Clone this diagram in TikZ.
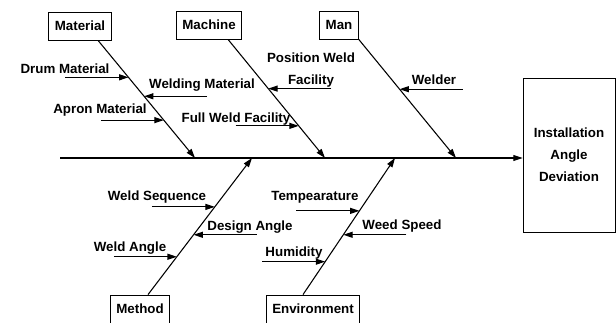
\documentclass[tikz,border=0pt]{standalone}
\usepackage{fontspec}
\setmainfont{Liberation Sans}
\usetikzlibrary{arrows.meta, calc}

\begin{document}
\begin{tikzpicture}[
  x=0.75pt, y=-0.75pt,
  cat/.style={rectangle, draw, line width=0.6pt, minimum height=21pt, inner xsep=4.5pt, font=\bfseries},
  effect/.style={rectangle, draw, line width=0.6pt, minimum width=69pt, minimum height=115.5pt, align=center, font=\bfseries},
  cause/.style={anchor=base, font=\bfseries},
  arrow/.style={-{Triangle[length=7pt, width=4.5pt]}, line width=0.8pt}
]
  \useasboundingbox (0,0) rectangle (616,323);

  % head and spine
  \node[effect] (dev) at (569,155) {Installation\\[4.5pt]Angle\\[4.5pt]Deviation};
  \coordinate (tail) at (60,158);
  \draw[arrow] (tail) -- (tail -| dev.west);

  % categories
  \node[cat] (mat) at (80,26) {Material};
  \node[cat] (mach) at (209,25) {Machine};
  \node[cat] (man) at (339,25) {Man};
  \node[cat] (meth) at (140,309) {Method};
  \node[cat] (env) at (313,309) {Environment};

  % bones
  \coordinate (matend) at (195,158);
  \coordinate (machend) at (325,158);
  \coordinate (manend) at (456,158);
  \coordinate (methend) at (252,158);
  \coordinate (envend) at (395,158);
  \draw[arrow] ([xshift=13.5pt]mat.south) -- (matend)
    coordinate[pos=0.314] (drum) coordinate[pos=0.475] (weldmat) coordinate[pos=0.678] (apron);
  \draw[arrow] ([xshift=14.25pt]mach.south) -- (machend)
    coordinate[pos=0.415] (posweld) coordinate[pos=0.729] (fullweld);
  \draw[arrow] (man.south east) -- (manend)
    coordinate[pos=0.42] (welder);
  \draw[arrow] ([xshift=6pt]meth.north) -- (methend)
    coordinate[pos=0.642] (weldseq) coordinate[pos=0.438] (design) coordinate[pos=0.277] (weldang);
  \draw[arrow] ([xshift=-7.5pt]env.north) -- (envend)
    coordinate[pos=0.613] (temp) coordinate[pos=0.438] (speed) coordinate[pos=0.241] (humid);

  % causes
  \draw[arrow] ($(drum)+(-63,0)$) -- (drum);
  \draw[arrow] ($(weldmat)+(63,0)$) -- (weldmat);
  \draw[arrow] ($(apron)+(-63,0)$) -- (apron);
  \draw[arrow] ($(posweld)+(63,0)$) -- (posweld);
  \draw[arrow] ($(fullweld)+(-63,0)$) -- (fullweld);
  \draw[arrow] ($(welder)+(63,0)$) -- (welder);
  \draw[arrow] ($(weldseq)+(-63,0)$) -- (weldseq);
  \draw[arrow] ($(design)+(63,0)$) -- (design);
  \draw[arrow] ($(weldang)+(-63,0)$) -- (weldang);
  \draw[arrow] ($(temp)+(-63,0)$) -- (temp);
  \draw[arrow] ($(speed)+(63,0)$) -- (speed);
  \draw[arrow] ($(humid)+(-63,0)$) -- (humid);

  \node[cause] (drumtxt) at (65,74) {Drum Material};
  \node[cause] (weldmattxt) at (202,89) {Welding Material};
  \node[cause] (aprontxt) at (100,114) {Apron Material};
  \node[font=\bfseries, align=center] (poswelddtxt) at (311,70) {Position Weld\\[4.5pt]Facility};
  \node[cause] (fullweldtxt) at (236,123) {Full Weld Facility};
  \node[cause] (weldertxt) at (434,85) {Welder};
  \node[cause] (weldseqtxt) at (157,201) {Weld Sequence};
  \node[cause] (designtxt) at (250,231) {Design Angle};
  \node[cause] (weldangtxt) at (130,252) {Weld Angle};
  \node[cause] (temptxt) at (315,201) {Tempearature};
  \node[cause] (speedtxt) at (402,230) {Weed Speed};
  \node[cause] (humidtxt) at (294,257) {Humidity};
\end{tikzpicture}
\end{document}
